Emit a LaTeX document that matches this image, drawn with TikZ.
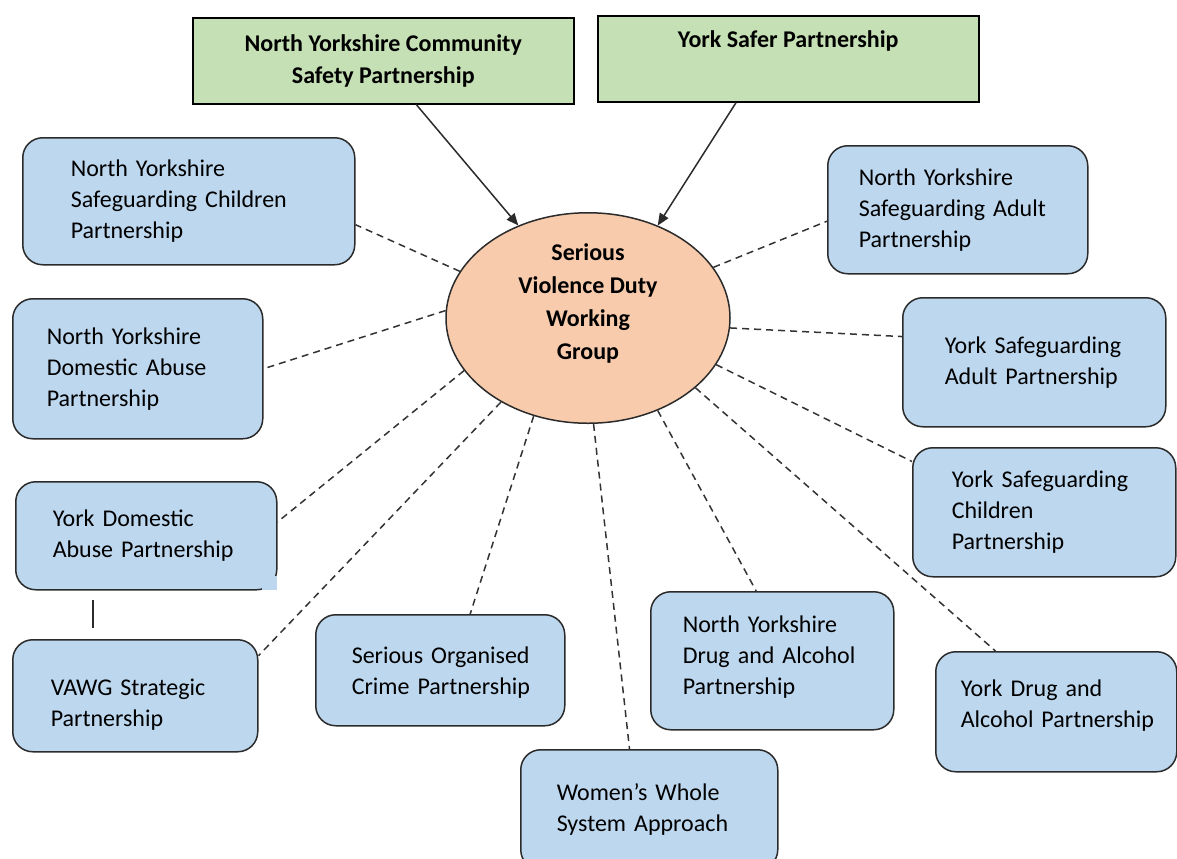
\documentclass[tikz,border=0pt]{standalone}
\usepackage{fontspec}
\setmainfont{Carlito}
\usetikzlibrary{shapes.geometric,arrows.meta}
\definecolor{boxblue}{HTML}{BDD7EE}
\definecolor{boxgreen}{HTML}{C5E0B4}
\definecolor{ovalfill}{HTML}{F8CBAD}
\definecolor{edgecol}{HTML}{2B2B2B}
\definecolor{dashcol}{HTML}{333333}
\newcommand{\bxln}[1]{\mbox{#1}}
\begin{document}
\begin{tikzpicture}[x=0.5pt,y=-0.5pt,
  pbox/.style={draw=edgecol, line width=0.75pt, fill=boxblue, rounded corners=10pt,
    align=left, inner ysep=0pt, anchor=north west,
    font=\fontsize{12}{15.5}\selectfont},
  gbox/.style={draw=black, line width=0.75pt, fill=boxgreen, anchor=north west,
    align=center, inner sep=0pt, minimum width=190.5pt, minimum height=43pt,
    font=\bfseries\fontsize{12}{16}\selectfont},
  dl/.style={draw=dashcol, line width=0.75pt, dash pattern=on 3.5pt off 2.5pt},
  al/.style={draw=edgecol, line width=0.75pt, -{Triangle[length=6pt,width=5pt]}},
  sl/.style={draw=edgecol, line width=0.75pt}]
\useasboundingbox (0,0) rectangle (1177,858);

% green top boxes
\node[gbox] (nycsp) at (192,17) {North Yorkshire Community\\Safety Partnership};
\node[gbox] (ysp) at (597,15) {York Safer Partnership\\[4pt]\mbox{}};

% central ellipse
\node[ellipse, draw=edgecol, line width=0.75pt, fill=ovalfill, minimum width=142pt,
  minimum height=95pt, inner sep=0pt, align=center,
  font=\bfseries\fontsize{12}{16.5}\selectfont] (sv) at (588,318)
  {Serious\\Violence Duty\\Working\\Group\\\mbox{}};

% blue boxes
\node[pbox, minimum width=166pt, minimum height=63.5pt, text width=118pt, inner xsep=24pt]
  (nysc) at (22,137) {\bxln{North Yorkshire}\\\bxln{Safeguarding Children}\\\bxln{Partnership}};
\node[pbox, minimum width=125pt, minimum height=70pt, text width=91pt, inner xsep=17pt]
  (nyda) at (12,298) {\bxln{North Yorkshire}\\\bxln{Domestic Abuse}\\\bxln{Partnership}};
\node[pbox, minimum width=130.5pt, minimum height=54pt, text width=93.5pt, inner xsep=18.5pt]
  (yda) at (15,481) {\bxln{York Domestic}\\\bxln{Abuse Partnership}};
\fill[boxblue] (262,576) rectangle (277,590);
\node[pbox, minimum width=122.5pt, minimum height=56pt, text width=84.5pt, inner xsep=19pt]
  (vawg) at (12,639) {\rule{0pt}{16.8pt}\bxln{VAWG Strategic}\\\bxln{Partnership}};
\node[pbox, minimum width=124.5pt, minimum height=55.5pt, text width=88.5pt, inner xsep=18pt]
  (soc) at (315,614) {\rule{0pt}{11pt}\bxln{Serious Organised}\\\bxln{Crime Partnership}};
\node[pbox, minimum width=128.5pt, minimum height=60pt, text width=92.5pt, inner xsep=18pt]
  (wwsa) at (520,749) {\bxln{Women’s Whole}\\\bxln{System Approach}};
\node[pbox, minimum width=121.5pt, minimum height=69pt, text width=89.5pt, inner xsep=16pt]
  (nydap) at (650,591) {\bxln{North Yorkshire}\\\bxln{Drug and Alcohol}\\\bxln{Partnership}\rule[-5.5pt]{0pt}{0pt}};
\node[pbox, minimum width=120.5pt, minimum height=60pt, text width=95.5pt, inner xsep=12.5pt]
  (ydap) at (935,651) {\bxln{York Drug and}\\\bxln{Alcohol Partnership}\rule[-8.5pt]{0pt}{0pt}};
\node[pbox, minimum width=131.5pt, minimum height=64.5pt, text width=92.5pt, inner xsep=19.5pt]
  (ysc) at (912,447) {\bxln{York Safeguarding}\\\bxln{Children}\\\bxln{Partnership}};
\node[pbox, minimum width=131.5pt, minimum height=64.5pt, text width=89.5pt, inner xsep=21pt]
  (ysa) at (902,297) {\bxln{York Safeguarding}\\\bxln{Adult Partnership}};
\node[pbox, minimum width=130pt, minimum height=64pt, text width=99pt, inner xsep=15.5pt]
  (nysa) at (827,145) {\bxln{North Yorkshire}\\\bxln{Safeguarding Adult}\\\bxln{Partnership}};

% dashed connectors
\draw[dl] (sv.160.5) -- (nysc.-8.1);
\draw[dl] (sv.177.6) -- (nyda.-0.9);
\draw[dl] (sv.-157.7) -- (yda.6.6);
\draw[dl] (sv.-136.1) -- (vawg.18.1);
\draw[dl] (sv.-119.7) -- (soc.62.8);
\draw[dl] (sv.-87.7) -- (wwsa.108.9);
\draw[dl] (sv.-53.7) -- (nydap.103.4);
\draw[dl] (sv.-33.7) -- (ydap.135.2);
\draw[dl] (sv.-20.5) -- (ysc.159.4);
\draw[dl] (sv.-4.5) -- (ysa.169.9);
\draw[dl] (sv.22) -- (nysa.185.3);

% arrows
\draw[al] (nycsp.-53.8) -- (sv.127.6);
\draw[al] (ysp.-140.7) -- (sv.53.3);

% short vertical line
\coordinate (v1) at (93,600);
\coordinate (v2) at (93,628);
\draw[sl] (v1) -- (v2);
\end{tikzpicture}
\end{document}
